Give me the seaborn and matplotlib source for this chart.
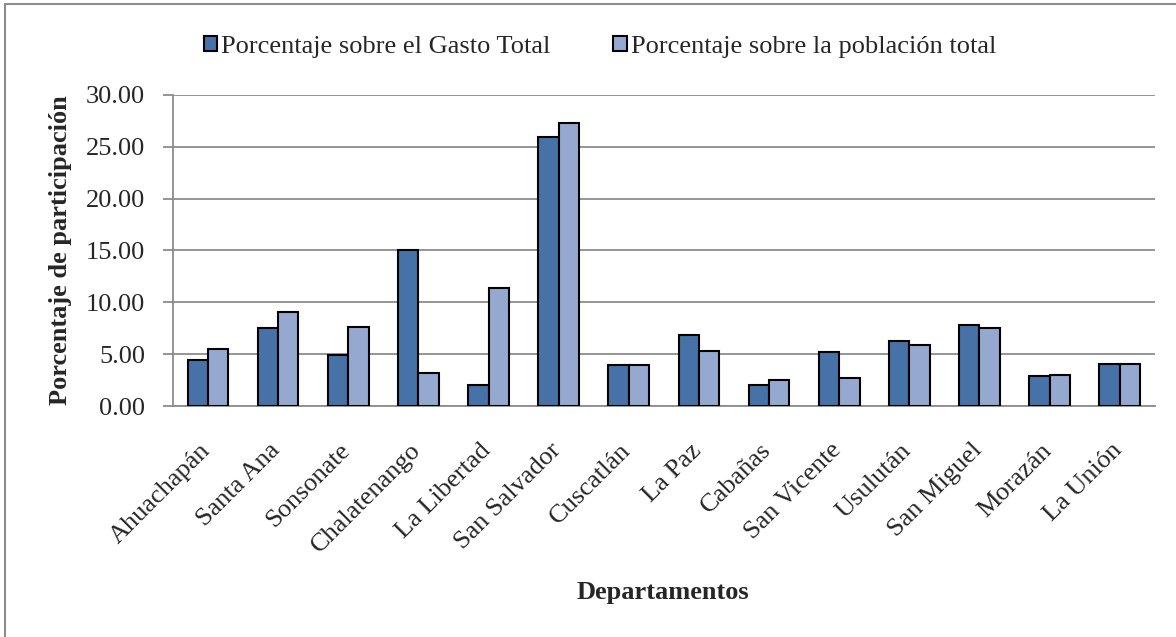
import seaborn as sns
import matplotlib.pyplot as plt
import matplotlib.transforms as mtransforms
import pandas as pd
from matplotlib.lines import Line2D

# ----------- DATA -----------
departamentos = ["Ahuachapán", "Santa Ana", "Sonsonate", "Chalatenango", "La Libertad",
                 "San Salvador", "Cuscatlán", "La Paz", "Cabañas", "San Vicente",
                 "Usulután", "San Miguel", "Morazán", "La Unión"]
gasto = [4.48, 7.51, 4.90, 15.08, 2.00, 25.94, 3.96, 6.80, 2.03, 5.19, 6.22, 7.80, 2.90, 4.03]
poblacion = [5.51, 9.06, 7.57, 3.22, 11.41, 27.26, 3.93, 5.32, 2.51, 2.74, 5.93, 7.51, 2.96, 4.06]
series = ["Porcentaje sobre el Gasto Total", "Porcentaje sobre la población total"]

df = pd.DataFrame({
    "Departamento": departamentos * 2,
    "Valor": gasto + poblacion,
    "Serie": [series[0]] * len(gasto) + [series[1]] * len(poblacion),
})

sns.set_style("white")
plt.rcParams["font.family"] = ["Liberation Serif", "DejaVu Serif"]

fig = plt.figure(figsize=(11.76, 6.37), dpi=100)
ax = fig.add_axes([0.147, 0.3626, 0.835, 0.4886])

grid_col = "#8c8c8c"
sns.barplot(data=df, x="Departamento", y="Valor", hue="Serie",
            palette=["#4672a8", "#95a9d0"], saturation=1, width=0.58,
            edgecolor="black", linewidth=1.5, ax=ax, zorder=3)

ax.set_ylim(0, 30)
ax.set_xlim(-0.5, len(departamentos) - 0.5)
ax.set_yticks(range(0, 31, 5))
ax.set_yticklabels([f"{v:.2f}" for v in range(0, 31, 5)], fontsize=19)
ax.yaxis.grid(True, color=grid_col, linewidth=1.3, zorder=0)
ax.set_axisbelow(True)

# category labels, plus boundary ticks on x axis
ax.set_xticks(range(len(departamentos)))
ax.set_xticklabels(departamentos, rotation=45, ha="right", rotation_mode="anchor", fontsize=19)
ax.tick_params(axis="x", length=0, pad=24)
shift = mtransforms.ScaledTranslation(-0.09, 0, fig.dpi_scale_trans)
for lbl in ax.get_xticklabels():
    lbl.set_transform(lbl.get_transform() + shift)
ax.set_xticks([i - 0.5 for i in range(len(departamentos) + 1)], minor=True)
ax.tick_params(axis="x", which="minor", length=6, color=grid_col, width=1.3)
ax.tick_params(axis="y", length=7, color=grid_col, width=1.3, left=True, pad=13)

for s in ["top", "right"]:
    ax.spines[s].set_visible(False)
for s in ["left", "bottom"]:
    ax.spines[s].set_color(grid_col)
    ax.spines[s].set_linewidth(1.3)

ax.set_ylabel("Porcentaje de participación", fontsize=19, fontweight="bold", labelpad=10)
ax.set_xlabel("")
fig.text(0.564, 0.07, "Departamentos", ha="center", va="center", fontsize=19, fontweight="bold")

ax.legend(loc="center", bbox_to_anchor=(0.51, 0.927), bbox_transform=fig.transFigure,
          ncol=2, frameon=False, fontsize=19, handlelength=0.5, handleheight=0.5,
          handletextpad=0.15, columnspacing=2.4)

# outer chart border (left and top visible)
fig.add_artist(Line2D([5 / 1176, 5 / 1176], [0, 1 - 4 / 637], transform=fig.transFigure,
                      color=grid_col, linewidth=1.5))
fig.add_artist(Line2D([5 / 1176, 1], [1 - 4 / 637, 1 - 4 / 637], transform=fig.transFigure,
                      color=grid_col, linewidth=1.5))

fig.savefig("out.png", dpi=100)
